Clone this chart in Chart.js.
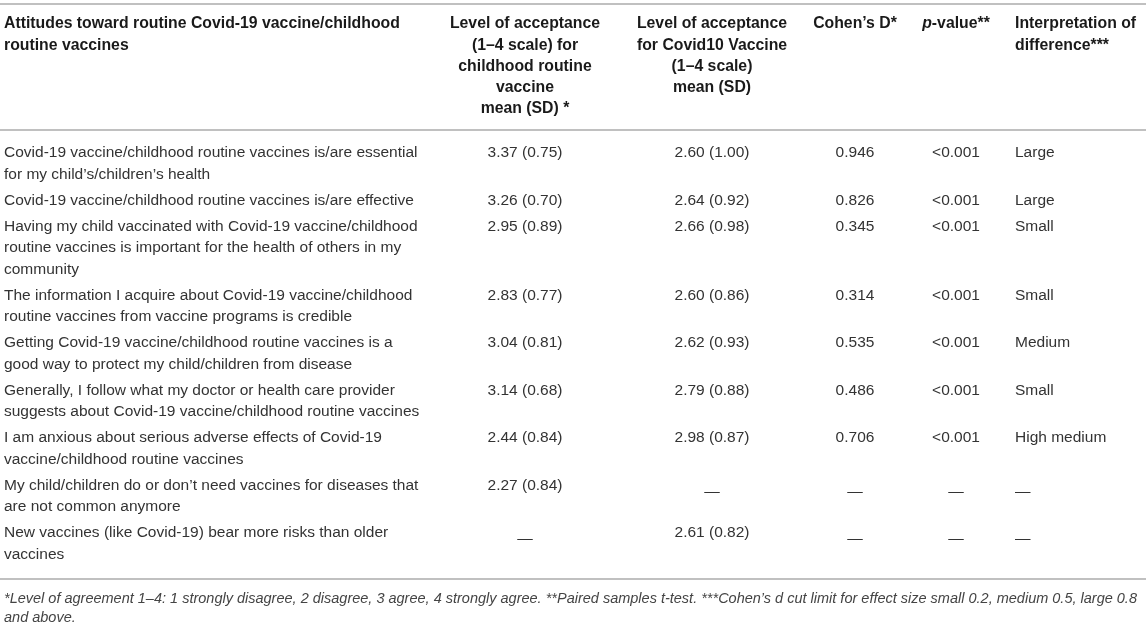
<!DOCTYPE html>
<html>
<head>
<meta charset="utf-8">
<title>Attitudes toward Covid-19 vaccine / childhood routine vaccines</title>
<script src="https://cdn.jsdelivr.net/npm/chart.js@4.4.1/dist/chart.umd.min.js"></script>
<style>
    html, body { margin: 0; padding: 0; background: #fff; }
    #wrap { width: 1146px; height: 624px; }
</style>
</head>
<body>
<div id="wrap"><canvas id="table1" width="1146" height="624"></canvas></div>
<script>
// Table values
const items = [
    'Covid-19 vaccine/childhood routine vaccines is/are essential\nfor my child\u2019s/children\u2019s health',
    'Covid-19 vaccine/childhood routine vaccines is/are effective',
    'Having my child vaccinated with Covid-19 vaccine/childhood\nroutine vaccines is important for the health of others in my\ncommunity',
    'The information I acquire about Covid-19 vaccine/childhood\nroutine vaccines from vaccine programs is credible',
    'Getting Covid-19 vaccine/childhood routine vaccines is a\ngood way to protect my child/children from disease',
    'Generally, I follow what my doctor or health care provider\nsuggests about Covid-19 vaccine/childhood routine vaccines',
    'I am anxious about serious adverse effects of Covid-19\nvaccine/childhood routine vaccines',
    'My child/children do or don\u2019t need vaccines for diseases that\nare not common anymore',
    'New vaccines (like Covid-19) bear more risks than older\nvaccines'
];
const childMean = [3.37, 3.26, 2.95, 2.83, 3.04, 3.14, 2.44, 2.27, null];
const childSD = [0.75, 0.70, 0.89, 0.77, 0.81, 0.68, 0.84, 0.84, null];
const covidMean = [2.60, 2.64, 2.66, 2.60, 2.62, 2.79, 2.98, null, 2.61];
const covidSD = [1.00, 0.92, 0.98, 0.86, 0.93, 0.88, 0.87, null, 0.82];
const cohensD = [0.946, 0.826, 0.345, 0.314, 0.535, 0.486, 0.706, null, null];
const pValues = ['<0.001', '<0.001', '<0.001', '<0.001', '<0.001', '<0.001', '<0.001', null, null];
const interpretation = ['Large', 'Large', 'Small', 'Small', 'Medium', 'Small', 'High medium', null, null];

// Header labels
const headItem = ['Attitudes toward routine Covid-19 vaccine/childhood', 'routine vaccines'];
const headChild = ['Level of acceptance', '(1\u20134 scale) for', 'childhood routine', 'vaccine', 'mean (SD) *'];
const headCovid = ['Level of acceptance', 'for Covid10 Vaccine', '(1\u20134 scale)', 'mean (SD)'];
const headCohen = ['Cohen\u2019s D*'];
const headP = ['p', '-value**'];
const headInterp = ['Interpretation of', 'difference***'];

const footnote = [
    '*Level of agreement 1\u20134: 1 strongly disagree, 2 disagree, 3 agree, 4 strongly agree. **Paired samples t-test. ***Cohen\u2019s d cut limit for effect size small 0.2, medium 0.5, large 0.8',
    'and above.'
];

// Layout (in chart units, 1 unit = 1 px)
const FONT = '"Liberation Sans", Arial, Helvetica, sans-serif';
const col = { item: 4, child: 525, covid: 712, cohen: 855, p: 956, interp: 1015 };
const rules = [4, 130, 579];
const headTop = 24;
const headLine = 21.2;
const bodyTop = 153;
const lineH = 21.5;
const rowGap = 4.5;
const DASH = '\u2014';

// first-line y of every row
const rowY = [];
let yPos = bodyTop;
items.forEach(t => {
    rowY.push(yPos);
    yPos += t.split('\n').length * lineH + rowGap;
});

function fmtPair(m, s) {
    if (m === null) return DASH;
    return m.toFixed(2) + ' (' + s.toFixed(2) + ')';
}

const tablePlugin = {
    id: 'tableText',
    afterDraw(chart) {
        const ctx = chart.ctx;
        const xs = chart.scales.x;
        const ys = chart.scales.y;

        function put(str, xv, yv, align, font, color) {
            ctx.font = font;
            ctx.fillStyle = color;
            ctx.textAlign = align;
            ctx.textBaseline = 'middle';
            // dashes sit low in the reference
            const dy = str === DASH ? 6 : 0;
            ctx.fillText(str, xs.getPixelForValue(xv), ys.getPixelForValue(yv) + dy);
        }

        ctx.save();

        // horizontal rules
        ctx.strokeStyle = '#ababab';
        ctx.lineWidth = 1.6;
        rules.forEach(r => {
            const py = ys.getPixelForValue(r);
            ctx.beginPath();
            ctx.moveTo(xs.getPixelForValue(0), py);
            ctx.lineTo(xs.getPixelForValue(1146), py);
            ctx.stroke();
        });

        // header
        const hFont = 'bold 15.8px ' + FONT;
        const hColor = '#1a1a1a';
        headItem.forEach((t, i) => put(t, col.item, headTop + i * headLine, 'left', hFont, hColor));
        headChild.forEach((t, i) => put(t, col.child, headTop + i * headLine, 'center', hFont, hColor));
        headCovid.forEach((t, i) => put(t, col.covid, headTop + i * headLine, 'center', hFont, hColor));
        headCohen.forEach((t, i) => put(t, col.cohen, headTop + i * headLine, 'center', hFont, hColor));
        headInterp.forEach((t, i) => put(t, col.interp, headTop + i * headLine, 'left', hFont, hColor));

        // "p-value**" with italic p, centred as a whole
        const pFont = 'italic bold 15.8px ' + FONT;
        ctx.font = pFont;
        const w1 = ctx.measureText(headP[0]).width;
        ctx.font = hFont;
        const w2 = ctx.measureText(headP[1]).width;
        const pLeft = col.p - (w1 + w2) / 2;
        put(headP[0], pLeft, headTop, 'left', pFont, hColor);
        put(headP[1], pLeft + w1, headTop, 'left', hFont, hColor);

        // body
        const bFont = '15.5px ' + FONT;
        const bColor = '#333333';
        items.forEach((t, r) => {
            const y0 = rowY[r];
            t.split('\n').forEach((line, i) => put(line, col.item, y0 + i * lineH, 'left', bFont, bColor));
            put(fmtPair(childMean[r], childSD[r]), col.child, y0, 'center', bFont, bColor);
            put(fmtPair(covidMean[r], covidSD[r]), col.covid, y0, 'center', bFont, bColor);
            put(cohensD[r] === null ? DASH : cohensD[r].toFixed(3), col.cohen, y0, 'center', bFont, bColor);
            put(pValues[r] === null ? DASH : pValues[r], col.p, y0, 'center', bFont, bColor);
            put(interpretation[r] === null ? DASH : interpretation[r], col.interp, y0, 'left', bFont, bColor);
        });

        // footnote
        const fFont = 'italic 14.5px ' + FONT;
        footnote.forEach((t, i) => put(t, col.item, 599 + i * 19, 'left', fFont, '#444444'));

        ctx.restore();
    }
};

new Chart(document.getElementById('table1'), {
    type: 'scatter',
    data: {
        datasets: [{
            label: 'cells',
            data: rowY.map(y => ({ x: col.child, y: y })),
            pointRadius: 0,
            showLine: false
        }]
    },
    options: {
        responsive: false,
        animation: false,
        events: [],
        layout: { padding: 0 },
        scales: {
            x: { type: 'linear', min: 0, max: 1146, display: false },
            y: { type: 'linear', min: 0, max: 624, reverse: true, display: false }
        },
        plugins: {
            legend: { display: false },
            tooltip: { enabled: false }
        }
    },
    plugins: [tablePlugin]
});
</script>
</body>
</html>
